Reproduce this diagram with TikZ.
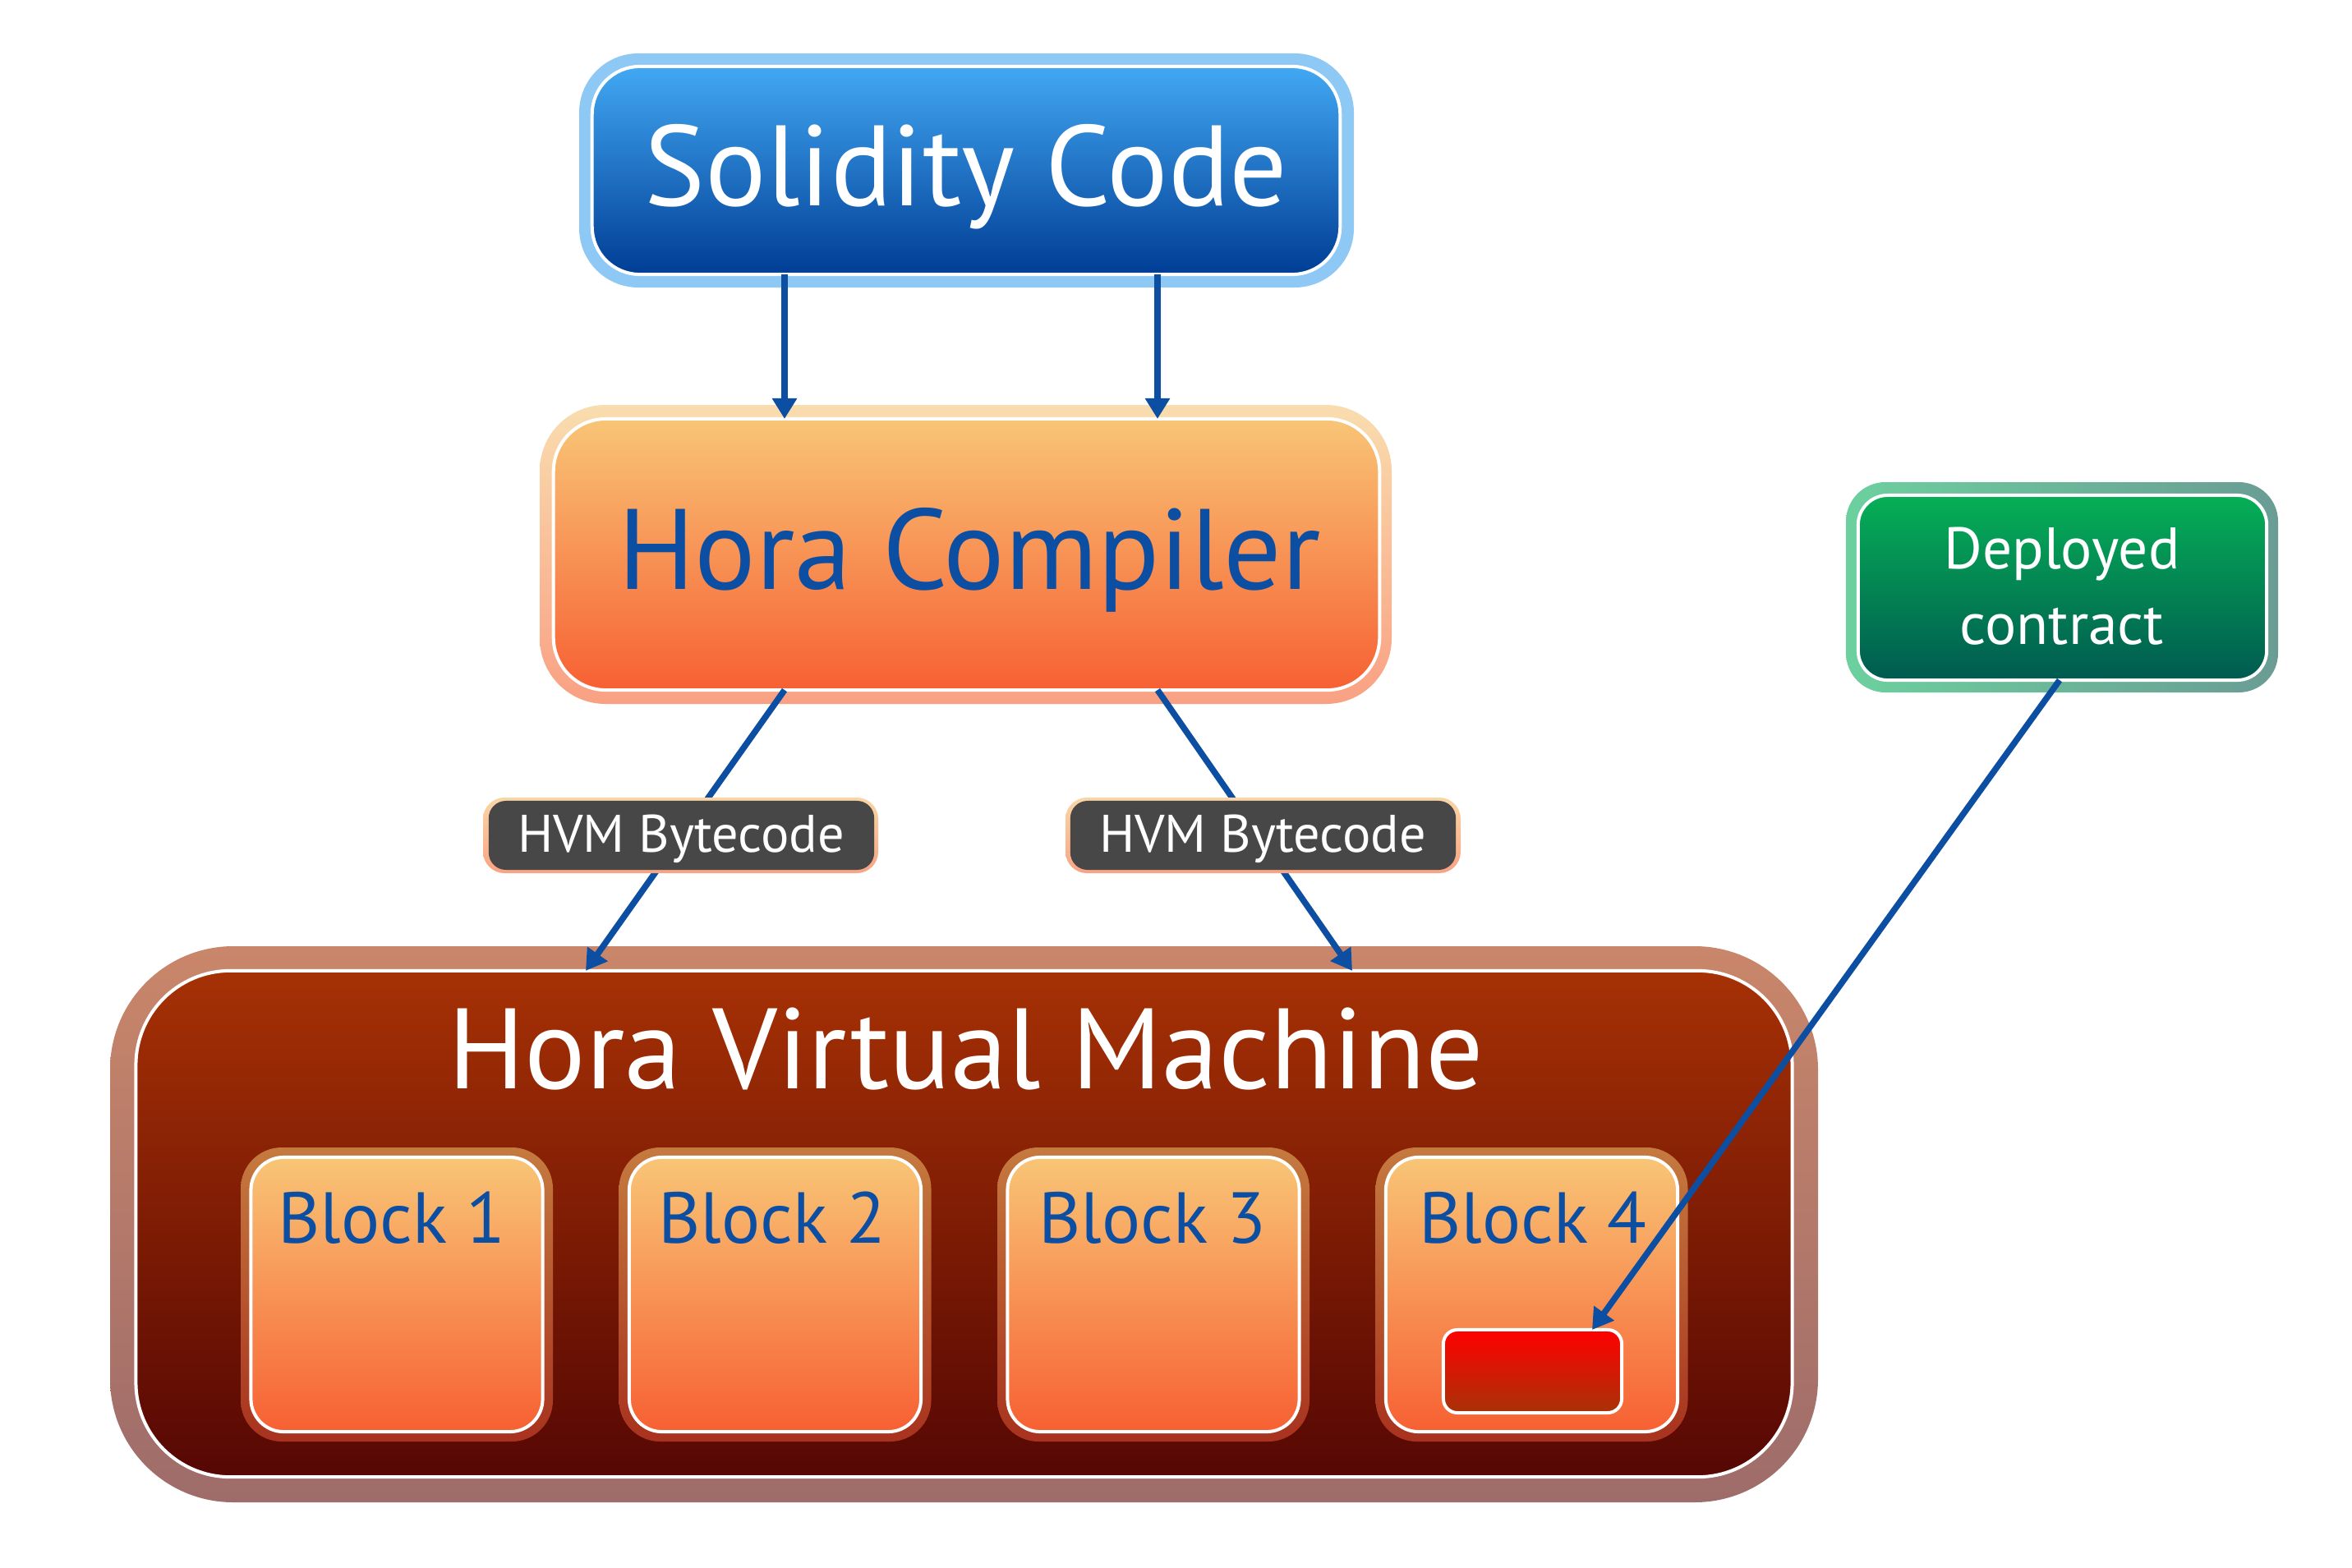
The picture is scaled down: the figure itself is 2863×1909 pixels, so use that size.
\documentclass[tikz,border=0pt]{standalone}
\usepackage{fontspec}
\setmainfont{PT Sans}
\usetikzlibrary{arrows.meta,calc}
\definecolor{solOut}{HTML}{8EC8F4}
\definecolor{solTop}{HTML}{42A8F3}
\definecolor{solBot}{HTML}{003D95}
\definecolor{cmpOutTop}{HTML}{F9DDAE}
\definecolor{cmpOutBot}{HTML}{F9A083}
\definecolor{orTop}{HTML}{F8C576}
\definecolor{orBot}{HTML}{F76033}
\definecolor{vmOutTop}{HTML}{C9866A}
\definecolor{vmOutBot}{HTML}{9E6C6A}
\definecolor{vmTop}{HTML}{A63105}
\definecolor{vmBot}{HTML}{560704}
\definecolor{blkOutTop}{HTML}{C57A3F}
\definecolor{blkOutBot}{HTML}{A8321E}
\definecolor{redTop}{HTML}{FF0000}
\definecolor{redBot}{HTML}{A83208}
\definecolor{depOutL}{HTML}{6CD09E}
\definecolor{depOutR}{HTML}{6A9C94}
\definecolor{depTop}{HTML}{06AF56}
\definecolor{depBot}{HTML}{005A50}
\definecolor{lblTop}{HTML}{F9D6A5}
\definecolor{lblBot}{HTML}{F9A383}
\definecolor{lblFill}{HTML}{474747}
\definecolor{inkBlue}{HTML}{0B4EA2}
\tikzset{
  boxnode/.style={draw=white, line width=0.04cm, inner sep=0pt, outer sep=0pt},
  arr/.style={draw=inkBlue, line width=0.075cm, -{Triangle[length=0.25cm,width=0.29cm]}},
  bigtext/.style={inner sep=0pt, anchor=base, font=\fontsize{39.6pt}{44pt}\selectfont},
  blocktext/.style={inner sep=0pt, anchor=base, text=inkBlue, font=\fontsize{25pt}{30pt}\selectfont},
  lbltext/.style={inner sep=0pt, anchor=base, text=white, font=\fontsize{18.3pt}{22pt}\selectfont},
  deptext/.style={inner sep=0pt, anchor=base, text=white, align=center, font=\fontsize{20.3pt}{25.9pt}\selectfont},
  blockouter/.style={top color=blkOutTop, bottom color=blkOutBot, rounded corners=0.5cm},
  blockinner/.style={boxnode, top color=orTop, bottom color=orBot, rounded corners=0.4cm, minimum width=3.55cm, minimum height=3.34cm},
}
\begin{document}
\begin{tikzpicture}[x=0.01cm,y=-0.01cm]
\useasboundingbox[fill=white] (0,0) rectangle (2863,1909);

% ---------- Solidity Code ----------
\path[fill=solOut, rounded corners=0.72cm] (705,65) rectangle (1648,350);
\node[boxnode, top color=solTop, bottom color=solBot, rounded corners=0.58cm,
      minimum width=9.10cm, minimum height=2.53cm] (sol) at (1176,207.5) {};
\node[bigtext, text=white] (soltxt) at (1176,250) {Solidity Code};

% ---------- Hora Compiler ----------
\path[top color=cmpOutTop, bottom color=cmpOutBot, rounded corners=0.8cm] (657,493) rectangle (1694,857);
\node[boxnode, top color=orTop, bottom color=orBot, rounded corners=0.64cm,
      minimum width=10.05cm, minimum height=3.30cm] (comp) at (1176.5,675) {};
\node[bigtext, text=inkBlue] (comptxt) at (1180,717) {Hora Compiler};

% ---------- Deployed contract ----------
\path[left color=depOutL, right color=depOutR, rounded corners=0.48cm] (2247,587) rectangle (2773,843);
\node[boxnode, top color=depTop, bottom color=depBot, rounded corners=0.36cm,
      minimum width=4.97cm, minimum height=2.25cm] (dep) at (2510.5,715.5) {};
\node[deptext] (deptxt) at (2510,784) {Deployed\\contract};

% ---------- Hora Virtual Machine ----------
\path[top color=vmOutTop, bottom color=vmOutBot, rounded corners=1.5cm] (134,1152) rectangle (2213,1829);
\node[boxnode, top color=vmTop, bottom color=vmBot, rounded corners=1.15cm,
      minimum width=20.15cm, minimum height=6.16cm] (vm) at (1173.5,1490) {};
\node[bigtext, text=white] (vmtxt) at (1176,1325) {Hora Virtual Machine};

% ---------- Blocks ----------
\path[blockouter] (293,1397) rectangle (673,1755);
\node[blockinner] (b1) at (483,1576) {};
\node[blocktext] (b1t) at (477,1513) {Block 1};
\path[blockouter] (753.5,1397) rectangle (1133.5,1755);
\node[blockinner] (b2) at (943.5,1576) {};
\node[blocktext] (b2t) at (940,1513) {Block 2};
\path[blockouter] (1214,1397) rectangle (1594,1755);
\node[blockinner] (b3) at (1404,1576) {};
\node[blocktext] (b3t) at (1403,1513) {Block 3};
\path[blockouter] (1674.5,1397) rectangle (2054.5,1755);
\node[blockinner] (b4) at (1864.5,1576) {};
\node[blocktext] (b4t) at (1866,1513) {Block 4};
\node[boxnode, top color=redTop, bottom color=redBot, rounded corners=0.17cm,
      minimum width=2.17cm, minimum height=1.01cm] (red) at (1865.5,1669.5) {};

% ---------- connector anchors ----------
\coordinate (xa) at (955,0);
\coordinate (xb) at (1409,0);
\coordinate (xc) at (713,0);
\coordinate (xd) at (1646,0);
\coordinate (xe) at (2507,0);
\coordinate (xf) at (1938,0);

% ---------- connectors ----------
\draw[arr] (sol.south -| xa) -- (comp.north -| xa);
\draw[arr] (sol.south -| xb) -- (comp.north -| xb);
\draw[arr] (comp.south -| xa) -- (vm.north -| xc);
\draw[arr] (comp.south -| xb) -- (vm.north -| xd);
\draw[arr] (dep.south -| xe) -- (red.north -| xf);

% ---------- HVM Bytecode labels ----------
\path[top color=lblTop, bottom color=lblBot, rounded corners=0.26cm] (588,971) rectangle (1069,1063);
\node[fill=lblFill, inner sep=0pt, rounded corners=0.21cm, minimum width=4.69cm, minimum height=0.84cm] (hvm1) at (829.5,1017) {};
\node[lbltext] (hvm1t) at (829,1037) {HVM Bytecode};
\path[top color=lblTop, bottom color=lblBot, rounded corners=0.26cm] (1297,971) rectangle (1778,1063);
\node[fill=lblFill, inner sep=0pt, rounded corners=0.21cm, minimum width=4.69cm, minimum height=0.84cm] (hvm2) at (1537.5,1017) {};
\node[lbltext] (hvm2t) at (1537,1037) {HVM Bytecode};
\end{tikzpicture}
\end{document}
